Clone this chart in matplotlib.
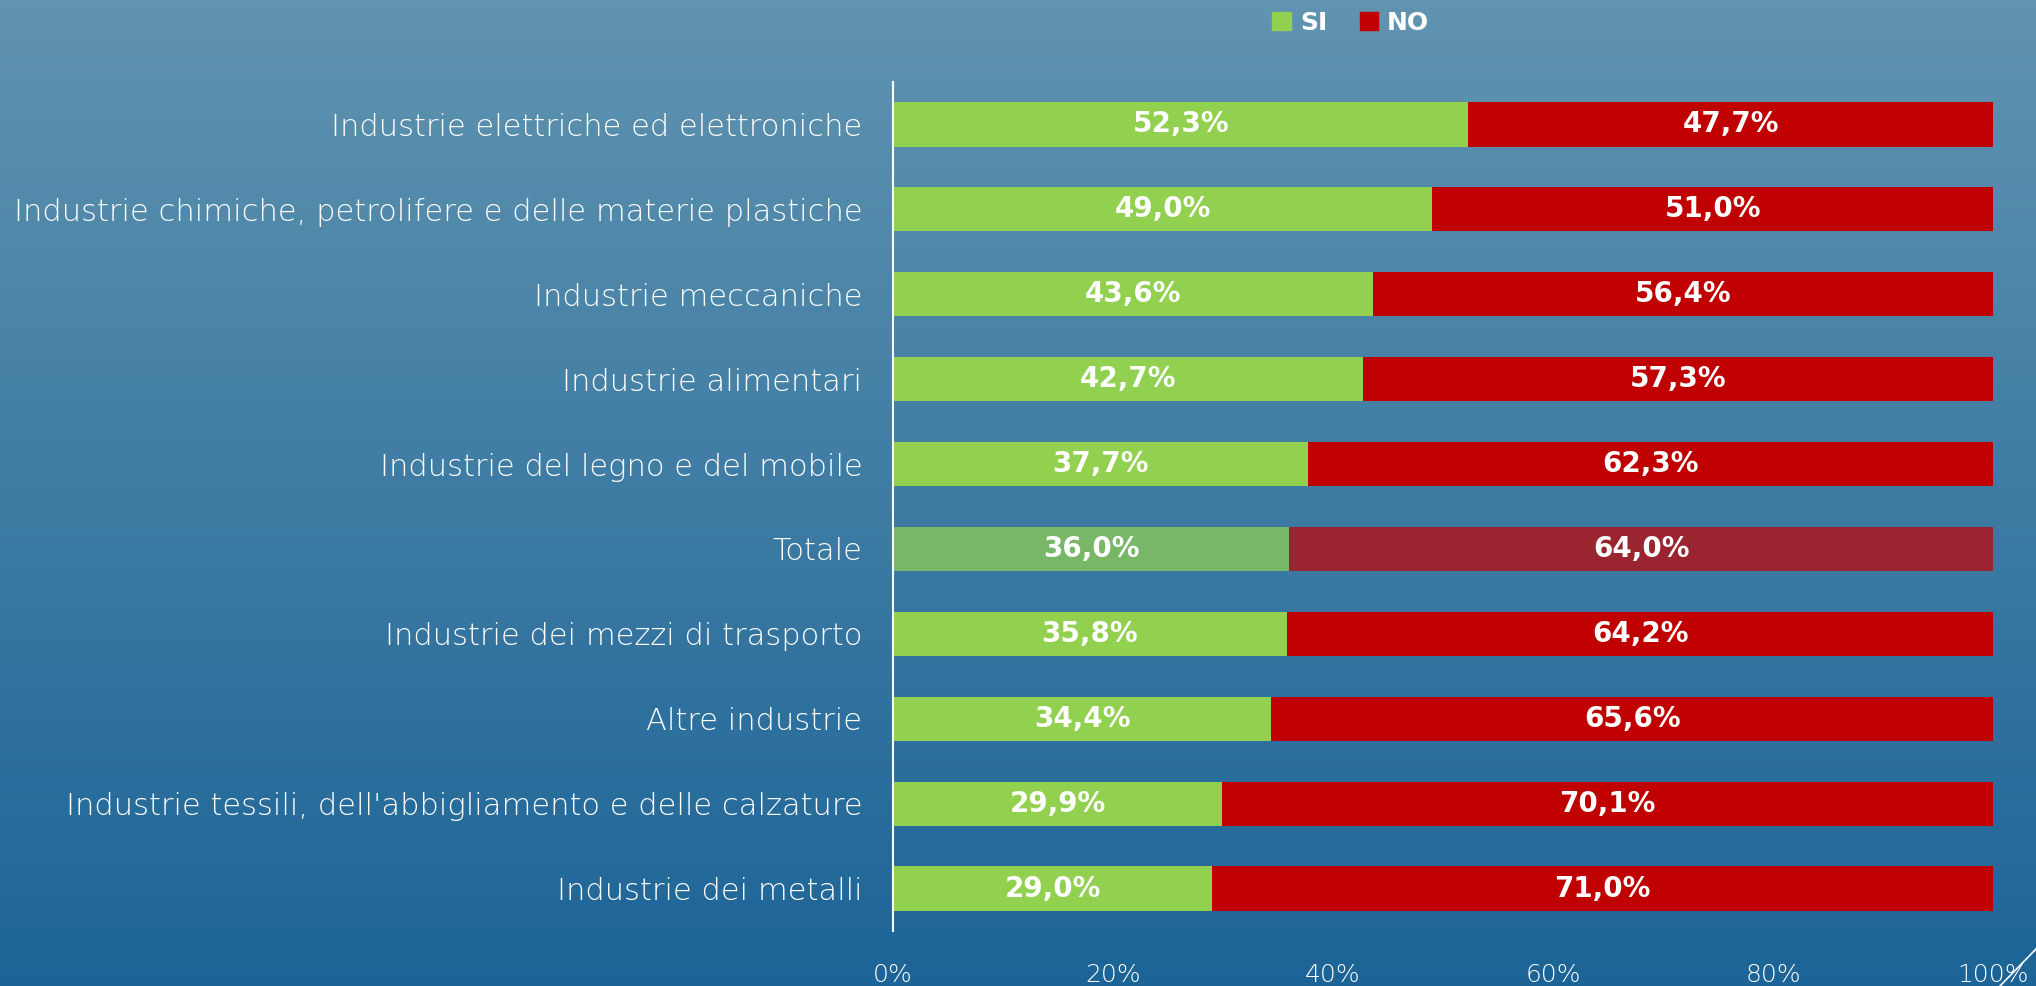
import matplotlib.pyplot as plt
import numpy as np
from matplotlib.colors import LinearSegmentedColormap
from matplotlib.lines import Line2D
from matplotlib.patches import Patch

categories = [
    "Industrie elettriche ed elettroniche",
    "Industrie chimiche, petrolifere e delle materie plastiche",
    "Industrie meccaniche",
    "Industrie alimentari",
    "Industrie del legno e del mobile",
    "Totale",
    "Industrie dei mezzi di trasporto",
    "Altre industrie",
    "Industrie tessili, dell'abbigliamento e delle calzature",
    "Industrie dei metalli",
]
si = [52.3, 49.0, 43.6, 42.7, 37.7, 36.0, 35.8, 34.4, 29.9, 29.0]
no = [47.7, 51.0, 56.4, 57.3, 62.3, 64.0, 64.2, 65.6, 70.1, 71.0]
xticks = [0, 20, 40, 60, 80, 100]

GREEN, RED = "#92D050", "#C00000"
GREEN_TOT, RED_TOT = "#77B767", "#9A2530"

plt.rcParams["font.family"] = ["DejaVu Sans"]

fig = plt.figure(figsize=(20.36, 9.86), dpi=100)

# background gradient
bg = fig.add_axes([0, 0, 1, 1], zorder=-10)
grad = np.linspace(0, 1, 256).reshape(-1, 1)
cmap = LinearSegmentedColormap.from_list("bg", ["#6194B0", "#1C6497"])
bg.imshow(grad, aspect="auto", cmap=cmap, extent=[0, 1, 0, 1])
bg.axis("off")

ax = fig.add_axes([0.4386, 0.0558, 0.5404, 0.861])
ax.patch.set_alpha(0)

y = np.arange(len(categories))
green_cols = [GREEN_TOT if c == "Totale" else GREEN for c in categories]
red_cols = [RED_TOT if c == "Totale" else RED for c in categories]
ax.barh(y, si, height=0.52, color=green_cols)
ax.barh(y, no, left=si, height=0.52, color=red_cols)

for i in range(len(categories)):
    ax.text(si[i] / 2, i, f"{si[i]:.1f}%".replace(".", ","), ha="center",
            va="center", color="white", fontsize=20, fontweight="bold")
    ax.text(si[i] + no[i] / 2, i, f"{no[i]:.1f}%".replace(".", ","),
            ha="center", va="center", color="white", fontsize=20,
            fontweight="bold")

ax.set_ylim(len(categories) - 0.5, -0.5)
ax.set_xlim(0, 100)
ax.set_yticks(y)
ax.set_yticklabels(categories, fontsize=22, color="white", fontweight="light")
ax.set_xticks(xticks)
ax.set_xticklabels([f"{v}%" for v in xticks], fontsize=18, color="white",
                   fontweight="light")
ax.tick_params(axis="both", length=0)
ax.tick_params(axis="y", pad=22)
ax.tick_params(axis="x", pad=23)
for s in ["top", "right", "bottom"]:
    ax.spines[s].set_visible(False)
ax.spines["left"].set_color("white")
ax.spines["left"].set_linewidth(1.5)

handles = [Patch(color=GREEN, label="SI"), Patch(color=RED, label="NO")]
leg = fig.legend(handles=handles, loc="upper center", ncol=2,
                 bbox_to_anchor=(0.6635, 1.012), frameon=False,
                 handlelength=0.75, handleheight=0.75, handletextpad=0.35,
                 columnspacing=1.3, prop={"size": 18, "weight": "bold"})
for t in leg.get_texts():
    t.set_color("white")

# small slash at the bottom-right corner
fig.add_artist(Line2D([0.9823, 1.0], [0.0, 0.0375], color="white", lw=1.2))

fig.savefig("out.png", dpi=100)
